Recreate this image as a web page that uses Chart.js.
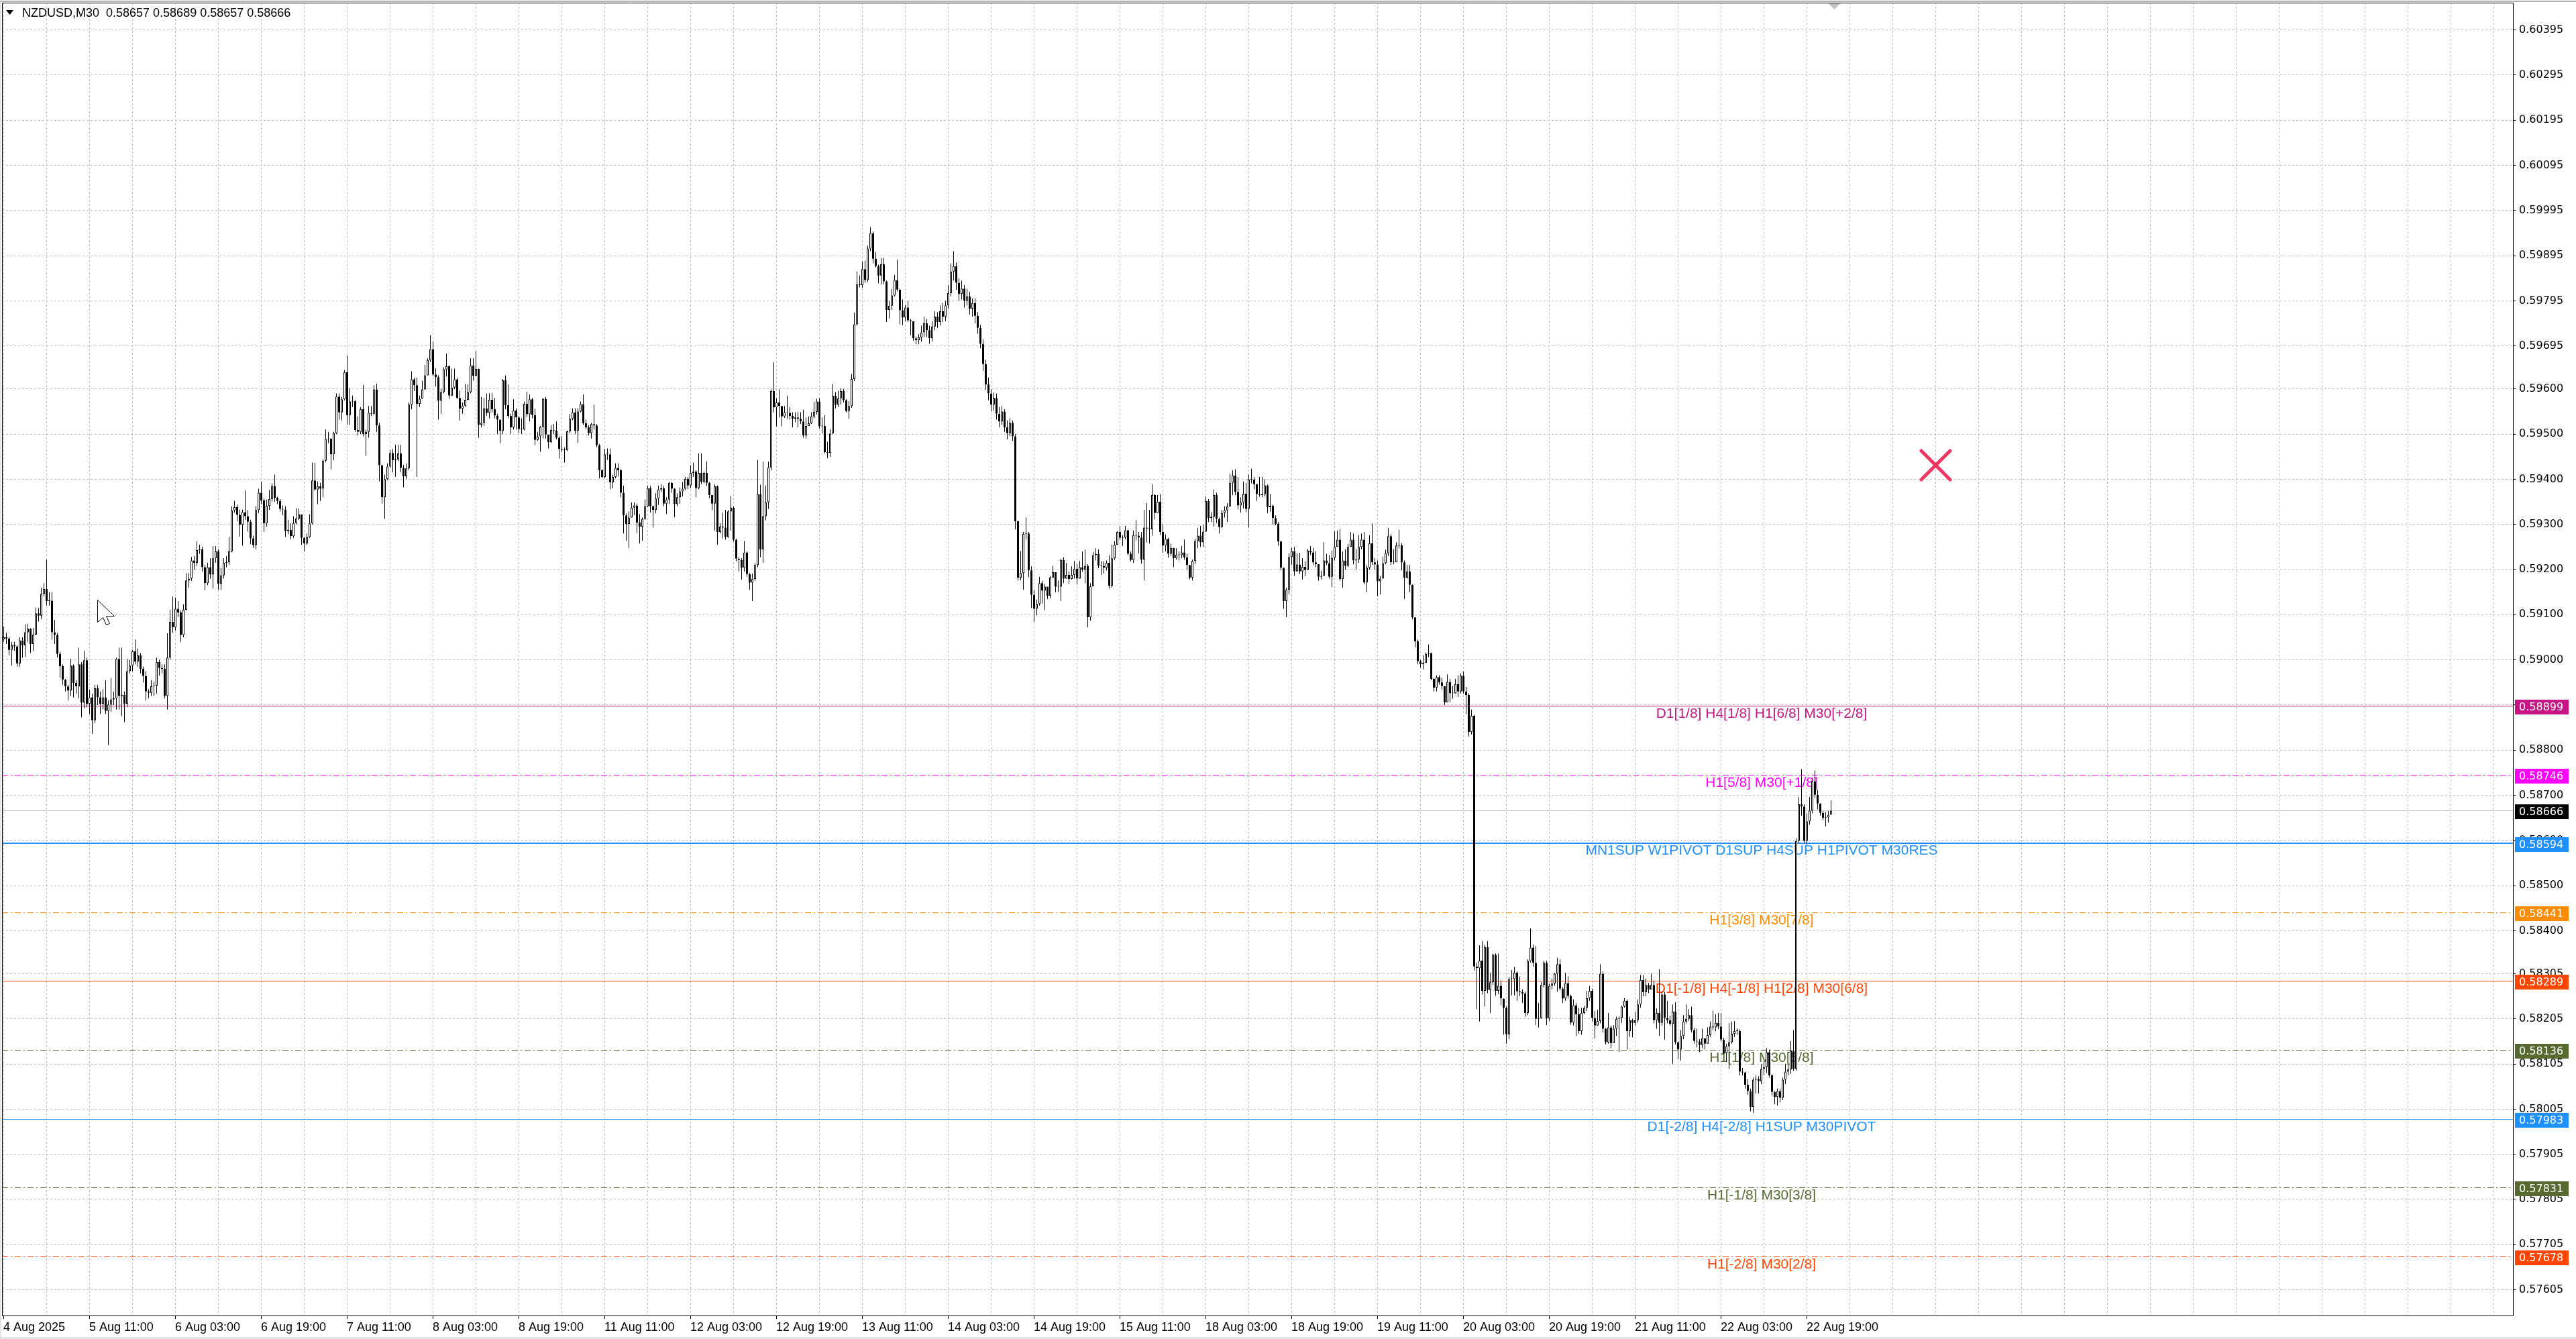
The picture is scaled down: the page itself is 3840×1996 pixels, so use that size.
<!DOCTYPE html>
<html>
<head>
<meta charset="utf-8">
<title>NZDUSD,M30</title>
<script src="https://cdn.jsdelivr.net/npm/chart.js@4.4.1/dist/chart.umd.min.js"></script>
<style>
  html, body { margin: 0; padding: 0; background: #ffffff; }
  #wrap { width: 3840px; height: 1996px; }
  canvas { display: block; }
</style>
</head>
<body>
<div id="wrap"><canvas id="chart" width="3840" height="1996"></canvas></div>
<script>
// ---- data -------------------------------------------------------------
const symbol = 'NZDUSD';
const timeframe = 'M30';
const POINT = 0.00001;          // prices below are in points (1e-5)

// first bar is 4 Aug 19:00, one bar per 30 minutes, weekend skipped
const firstOpen = 59045;

const closes = [
  59050, 59047, 59022, 59032, 59030, 58992, 59043, 59032, 59061, 59069, 59035, 59056, 59103, 59098, 59146, 59157,
  59130, 59131, 59061, 59055, 59013, 58986, 58956, 58941, 58932, 58987, 58949, 58941, 58990, 58905, 58999, 58903,
  58917, 58866, 58937, 58917, 58903, 58917, 58887, 58901, 58912, 58915, 59002, 58920, 58922, 58903, 58975, 58987,
  59019, 58996, 59010, 58980, 58964, 58930, 58927, 58942, 58943, 58995, 58982, 58980, 58920, 59005, 59084, 59072,
  59113, 59105, 59055, 59111, 59176, 59180, 59220, 59215, 59243, 59245, 59205, 59170, 59205, 59189, 59225, 59240,
  59168, 59187, 59215, 59216, 59240, 59331, 59338, 59321, 59299, 59327, 59318, 59306, 59269, 59254, 59332, 59370,
  59353, 59302, 59341, 59356, 59385, 59359, 59352, 59334, 59333, 59285, 59288, 59274, 59303, 59313, 59322, 59270,
  59258, 59272, 59302, 59397, 59377, 59384, 59379, 59441, 59489, 59490, 59455, 59502, 59583, 59548, 59577, 59637,
  59542, 59572, 59573, 59509, 59505, 59555, 59500, 59505, 59547, 59545, 59599, 59519, 59431, 59360, 59400, 59428,
  59458, 59442, 59444, 59457, 59425, 59406, 59424, 59565, 59621, 59608, 59567, 59578, 59599, 59630, 59664, 59688,
  59632, 59626, 59574, 59593, 59643, 59650, 59585, 59603, 59621, 59580, 59556, 59563, 59576, 59593, 59652, 59629,
  59644, 59521, 59525, 59557, 59547, 59576, 59555, 59541, 59532, 59507, 59619, 59564, 59540, 59515, 59552, 59537,
  59511, 59510, 59567, 59544, 59577, 59542, 59487, 59495, 59516, 59578, 59499, 59482, 59509, 59508, 59492, 59467,
  59466, 59464, 59506, 59534, 59548, 59507, 59550, 59566, 59524, 59515, 59502, 59522, 59519, 59475, 59420, 59405,
  59455, 59455, 59393, 59405, 59425, 59420, 59370, 59320, 59301, 59315, 59337, 59342, 59304, 59295, 59312, 59340,
  59380, 59340, 59332, 59357, 59377, 59380, 59346, 59355, 59392, 59379, 59345, 59360, 59373, 59379, 59401, 59386,
  59414, 59417, 59380, 59414, 59394, 59414, 59392, 59365, 59346, 59384, 59283, 59295, 59293, 59272, 59329, 59337,
  59266, 59224, 59221, 59204, 59238, 59190, 59171, 59179, 59210, 59367, 59244, 59318, 59349, 59426, 59595, 59559,
  59570, 59562, 59539, 59548, 59547, 59540, 59534, 59537, 59534, 59528, 59497, 59518, 59524, 59539, 59549, 59572,
  59517, 59518, 59460, 59458, 59501, 59585, 59565, 59579, 59595, 59575, 59551, 59562, 59622, 59743, 59832, 59830,
  59865, 59841, 59911, 59945, 59888, 59872, 59851, 59876, 59838, 59775, 59784, 59807, 59841, 59820, 59774, 59758,
  59780, 59752, 59750, 59712, 59708, 59714, 59725, 59745, 59730, 59712, 59738, 59760, 59748, 59772, 59760, 59785,
  59812, 59860, 59872, 59835, 59810, 59822, 59795, 59805, 59778, 59790, 59762, 59735, 59700, 59655, 59610, 59590,
  59565, 59580, 59545, 59528, 59550, 59515, 59502, 59525, 59495, 59307, 59182, 59192, 59279, 59280, 59198, 59144,
  59113, 59124, 59170, 59153, 59162, 59142, 59182, 59194, 59162, 59162, 59221, 59180, 59188, 59179, 59188, 59202,
  59180, 59205, 59200, 59208, 59094, 59163, 59232, 59235, 59209, 59208, 59204, 59215, 59164, 59225, 59255, 59283,
  59270, 59271, 59287, 59235, 59221, 59276, 59275, 59271, 59222, 59293, 59291, 59289, 59365, 59325, 59350, 59283,
  59253, 59268, 59235, 59248, 59225, 59233, 59232, 59238, 59227, 59210, 59182, 59219, 59263, 59275, 59260, 59284,
  59352, 59314, 59317, 59365, 59312, 59294, 59325, 59331, 59340, 59392, 59408, 59372, 59342, 59349, 59368, 59334,
  59399, 59399, 59389, 59367, 59365, 59367, 59386, 59338, 59341, 59314, 59301, 59262, 59204, 59130, 59155, 59228,
  59241, 59196, 59211, 59196, 59206, 59199, 59242, 59238, 59216, 59212, 59184, 59186, 59220, 59214, 59184, 59226,
  59250, 59266, 59179, 59220, 59208, 59250, 59266, 59220, 59222, 59250, 59266, 59171, 59204, 59258, 59216, 59211,
  59174, 59180, 59214, 59236, 59274, 59216, 59216, 59253, 59254, 59216, 59182, 59196, 59166, 59094, 59041, 58997,
  58990, 58993, 59013, 59015, 58958, 58938, 58962, 58950, 58942, 58906, 58951, 58926, 58926, 58946, 58930, 58965,
  58930, 58922, 58840, 58876, 58321, 58317, 58334, 58267, 58364, 58269, 58286, 58347, 58267, 58278, 58250, 58229,
  58171, 58293, 58293, 58307, 58266, 58264, 58261, 58218, 58333, 58363, 58329, 58205, 58207, 58280, 58329, 58206,
  58278, 58283, 58305, 58326, 58272, 58250, 58284, 58256, 58197, 58235, 58215, 58178, 58218, 58229, 58251, 58267,
  58207, 58190, 58200, 58305, 58183, 58153, 58186, 58151, 58183, 58205, 58207, 58232, 58245, 58178, 58202, 58196,
  58202, 58237, 58291, 58264, 58280, 58270, 58280, 58202, 58218, 58196, 58259, 58207, 58202, 58194, 58221, 58153,
  58137, 58167, 58199, 58205, 58213, 58180, 58156, 58155, 58147, 58162, 58150, 58169, 58188, 58186, 58196, 58188,
  58159, 58129, 58144, 58153, 58172, 58178, 58178, 58088, 58086, 58059, 58045, 58010, 58070, 58072, 58067, 58094,
  58098, 58131, 58080, 58043, 58032, 58045, 58030, 58070, 58088, 58093, 58134, 58094, 58599, 58680, 58675, 58599,
  58642, 58666, 58731, 58701, 58682, 58661, 58650, 58651, 58657, 58666
];

const highs = [
  59074, 59060, 59050, 59040, 59040, 59032, 59050, 59050, 59079, 59080, 59070, 59070, 59116, 59115, 59160, 59170,
  59222, 59150, 59150, 59088, 59060, 59018, 58990, 58958, 58945, 59002, 58990, 58955, 59027, 58995, 59020, 59005,
  58934, 58925, 58945, 58945, 58930, 58935, 58955, 58910, 58960, 58930, 59005, 59027, 59027, 58930, 59002, 59000,
  59022, 59045, 59025, 59015, 58985, 58975, 58935, 58955, 58952, 59005, 59000, 58990, 58990, 59059, 59111, 59140,
  59138, 59130, 59110, 59123, 59192, 59192, 59228, 59230, 59262, 59255, 59250, 59210, 59215, 59225, 59252, 59252,
  59245, 59203, 59225, 59230, 59272, 59340, 59352, 59344, 59333, 59333, 59375, 59332, 59310, 59275, 59340, 59379,
  59395, 59358, 59355, 59376, 59391, 59410, 59361, 59356, 59342, 59340, 59310, 59302, 59318, 59336, 59335, 59322,
  59272, 59280, 59322, 59437, 59436, 59395, 59392, 59444, 59510, 59505, 59490, 59505, 59590, 59590, 59582, 59642,
  59674, 59602, 59585, 59575, 59539, 59560, 59609, 59510, 59562, 59562, 59608, 59612, 59525, 59432, 59410, 59435,
  59465, 59467, 59476, 59476, 59476, 59432, 59435, 59570, 59639, 59625, 59625, 59585, 59618, 59653, 59668, 59719,
  59705, 59646, 59630, 59600, 59648, 59678, 59652, 59645, 59645, 59625, 59596, 59570, 59611, 59610, 59668, 59668,
  59684, 59645, 59582, 59580, 59590, 59590, 59591, 59580, 59545, 59532, 59622, 59630, 59610, 59545, 59577, 59557,
  59540, 59535, 59572, 59594, 59588, 59580, 59556, 59505, 59518, 59580, 59582, 59495, 59520, 59522, 59528, 59495,
  59495, 59470, 59508, 59545, 59557, 59557, 59557, 59572, 59588, 59532, 59520, 59525, 59565, 59522, 59478, 59422,
  59467, 59468, 59468, 59410, 59435, 59435, 59422, 59386, 59324, 59329, 59349, 59349, 59346, 59323, 59315, 59355,
  59386, 59385, 59342, 59369, 59386, 59389, 59385, 59360, 59394, 59394, 59380, 59369, 59382, 59394, 59405, 59405,
  59431, 59437, 59420, 59457, 59457, 59417, 59440, 59394, 59365, 59389, 59386, 59303, 59326, 59332, 59332, 59363,
  59340, 59268, 59228, 59225, 59263, 59240, 59192, 59191, 59214, 59443, 59388, 59439, 59386, 59439, 59599, 59659,
  59579, 59599, 59562, 59562, 59585, 59560, 59548, 59548, 59549, 59548, 59554, 59537, 59539, 59548, 59571, 59578,
  59579, 59537, 59542, 59483, 59511, 59611, 59593, 59596, 59602, 59600, 59577, 59573, 59633, 59769, 59860, 59851,
  59882, 59884, 59917, 59958, 59949, 59903, 59875, 59890, 59890, 59840, 59795, 59821, 59852, 59886, 59822, 59798,
  59786, 59795, 59755, 59750, 59716, 59721, 59740, 59760, 59755, 59740, 59750, 59772, 59770, 59785, 59790, 59795,
  59830, 59878, 59905, 59880, 59845, 59840, 59830, 59822, 59815, 59800, 59800, 59770, 59742, 59710, 59665, 59625,
  59600, 59592, 59590, 59560, 59562, 59555, 59530, 59535, 59530, 59500, 59308, 59241, 59283, 59315, 59283, 59207,
  59155, 59133, 59184, 59175, 59168, 59160, 59185, 59208, 59185, 59176, 59224, 59227, 59214, 59196, 59207, 59219,
  59212, 59219, 59240, 59244, 59212, 59170, 59239, 59247, 59244, 59218, 59218, 59220, 59232, 59255, 59263, 59285,
  59297, 59276, 59297, 59288, 59240, 59286, 59309, 59283, 59283, 59332, 59347, 59332, 59389, 59367, 59365, 59367,
  59300, 59278, 59270, 59257, 59247, 59247, 59240, 59252, 59266, 59235, 59210, 59222, 59268, 59292, 59297, 59299,
  59362, 59356, 59327, 59377, 59370, 59315, 59332, 59340, 59347, 59412, 59420, 59422, 59405, 59360, 59395, 59392,
  59410, 59423, 59405, 59389, 59405, 59405, 59400, 59388, 59367, 59344, 59320, 59305, 59264, 59204, 59160, 59236,
  59248, 59250, 59236, 59237, 59225, 59218, 59246, 59252, 59248, 59240, 59203, 59197, 59260, 59235, 59232, 59242,
  59284, 59286, 59290, 59240, 59245, 59256, 59283, 59280, 59245, 59276, 59280, 59283, 59210, 59276, 59302, 59225,
  59220, 59185, 59228, 59244, 59292, 59278, 59245, 59260, 59288, 59258, 59220, 59210, 59210, 59167, 59094, 59045,
  59000, 59010, 59016, 59034, 59016, 58960, 58966, 58966, 58960, 58940, 58968, 58958, 58942, 58958, 58966, 58970,
  58974, 58940, 58926, 58890, 58878, 58329, 58368, 58377, 58369, 58377, 58307, 58350, 58350, 58350, 58289, 58250,
  58232, 58298, 58313, 58320, 58310, 58299, 58270, 58265, 58337, 58405, 58370, 58366, 58240, 58286, 58334, 58334,
  58283, 58294, 58307, 58340, 58337, 58275, 58307, 58299, 58258, 58248, 58240, 58229, 58229, 58234, 58267, 58278,
  58272, 58222, 58225, 58326, 58310, 58185, 58218, 58190, 58191, 58210, 58210, 58234, 58251, 58248, 58210, 58205,
  58221, 58248, 58302, 58302, 58294, 58285, 58305, 58290, 58228, 58315, 58265, 58265, 58245, 58212, 58237, 58242,
  58155, 58180, 58213, 58237, 58226, 58232, 58185, 58183, 58160, 58183, 58162, 58186, 58199, 58223, 58215, 58218,
  58218, 58163, 58150, 58196, 58199, 58200, 58184, 58182, 58096, 58088, 58072, 58050, 58075, 58080, 58078, 58105,
  58110, 58140, 58137, 58082, 58045, 58051, 58050, 58075, 58105, 58105, 58156, 58180, 58605, 58696, 58758, 58680,
  58660, 58696, 58739, 58755, 58712, 58682, 58665, 58663, 58665, 58689
];

const lows = [
  59040, 59035, 59010, 58987, 59020, 58985, 58985, 59005, 59007, 59040, 59015, 59020, 59055, 59085, 59090, 59140,
  59120, 59120, 59045, 59035, 59005, 58960, 58945, 58930, 58910, 58920, 58917, 58925, 58915, 58873, 58893, 58895,
  58880, 58836, 58860, 58900, 58880, 58890, 58880, 58811, 58885, 58900, 58890, 58890, 58875, 58862, 58895, 58970,
  58975, 58990, 58985, 58970, 58950, 58910, 58915, 58920, 58920, 58925, 58965, 58970, 58915, 58890, 59000, 59060,
  59065, 59095, 59040, 59050, 59110, 59160, 59175, 59200, 59208, 59235, 59195, 59154, 59165, 59180, 59158, 59215,
  59155, 59155, 59180, 59205, 59210, 59238, 59326, 59307, 59273, 59253, 59310, 59284, 59256, 59248, 59245, 59325,
  59345, 59284, 59295, 59332, 59350, 59350, 59345, 59328, 59320, 59272, 59278, 59267, 59270, 59300, 59310, 59255,
  59240, 59255, 59270, 59300, 59375, 59345, 59352, 59360, 59438, 59480, 59422, 59442, 59500, 59532, 59530, 59575,
  59521, 59520, 59560, 59505, 59497, 59500, 59495, 59452, 59492, 59540, 59542, 59505, 59395, 59346, 59312, 59398,
  59425, 59415, 59405, 59440, 59415, 59382, 59400, 59420, 59555, 59595, 59405, 59560, 59578, 59598, 59630, 59660,
  59628, 59605, 59532, 59545, 59590, 59628, 59578, 59585, 59600, 59578, 59530, 59545, 59560, 59575, 59590, 59618,
  59628, 59492, 59515, 59518, 59540, 59535, 59548, 59535, 59500, 59480, 59500, 59555, 59535, 59500, 59510, 59510,
  59502, 59500, 59508, 59538, 59528, 59535, 59475, 59485, 59461, 59490, 59490, 59468, 59480, 59500, 59488, 59446,
  59460, 59437, 59462, 59502, 59530, 59500, 59480, 59548, 59520, 59510, 59497, 59490, 59510, 59471, 59402, 59402,
  59402, 59443, 59378, 59380, 59402, 59406, 59360, 59280, 59264, 59248, 59315, 59320, 59281, 59258, 59264, 59310,
  59338, 59326, 59293, 59325, 59343, 59372, 59340, 59323, 59345, 59370, 59316, 59340, 59346, 59362, 59376, 59378,
  59380, 59405, 59360, 59378, 59389, 59391, 59385, 59358, 59332, 59286, 59255, 59280, 59269, 59266, 59270, 59286,
  59262, 59218, 59196, 59178, 59195, 59184, 59155, 59130, 59175, 59205, 59227, 59215, 59309, 59334, 59420, 59548,
  59517, 59537, 59517, 59536, 59534, 59532, 59515, 59526, 59515, 59522, 59492, 59490, 59518, 59522, 59535, 59543,
  59512, 59501, 59457, 59447, 59450, 59500, 59557, 59560, 59565, 59570, 59548, 59534, 59558, 59617, 59740, 59825,
  59824, 59835, 59837, 59905, 59878, 59869, 59834, 59831, 59832, 59748, 59756, 59775, 59805, 59816, 59743, 59741,
  59750, 59748, 59719, 59707, 59699, 59699, 59705, 59715, 59715, 59700, 59705, 59730, 59735, 59740, 59748, 59750,
  59778, 59805, 59840, 59820, 59795, 59798, 59780, 59785, 59765, 59760, 59745, 59722, 59690, 59640, 59598, 59575,
  59550, 59552, 59532, 59515, 59520, 59505, 59488, 59495, 59485, 59289, 59176, 59176, 59155, 59267, 59183, 59115,
  59084, 59099, 59120, 59125, 59110, 59135, 59136, 59182, 59150, 59150, 59130, 59170, 59180, 59168, 59178, 59180,
  59167, 59180, 59195, 59170, 59072, 59087, 59163, 59220, 59203, 59188, 59191, 59198, 59158, 59160, 59221, 59255,
  59265, 59252, 59267, 59231, 59218, 59215, 59265, 59236, 59213, 59176, 59260, 59258, 59275, 59311, 59325, 59277,
  59237, 59240, 59226, 59230, 59205, 59222, 59220, 59225, 59222, 59200, 59178, 59176, 59212, 59247, 59250, 59250,
  59283, 59305, 59305, 59295, 59303, 59280, 59292, 59315, 59305, 59338, 59365, 59365, 59333, 59326, 59335, 59327,
  59293, 59391, 59378, 59352, 59361, 59360, 59362, 59325, 59328, 59299, 59298, 59253, 59198, 59113, 59094, 59145,
  59210, 59186, 59195, 59190, 59178, 59185, 59200, 59232, 59210, 59205, 59175, 59178, 59190, 59210, 59180, 59161,
  59220, 59250, 59175, 59160, 59200, 59205, 59250, 59212, 59200, 59215, 59245, 59167, 59150, 59200, 59210, 59200,
  59141, 59145, 59180, 59212, 59230, 59210, 59212, 59220, 59247, 59198, 59135, 59180, 59150, 59090, 59028, 58990,
  58983, 58979, 58994, 59006, 58955, 58930, 58930, 58945, 58934, 58900, 58935, 58906, 58914, 58925, 58918, 58925,
  58925, 58880, 58830, 58835, 58312, 58226, 58199, 58259, 58232, 58262, 58218, 58280, 58256, 58260, 58235, 58170,
  58150, 58160, 58257, 58257, 58245, 58255, 58240, 58210, 58213, 58330, 58320, 58191, 58186, 58205, 58275, 58191,
  58200, 58270, 58278, 58265, 58268, 58240, 58245, 58250, 58192, 58190, 58167, 58172, 58170, 58215, 58222, 58245,
  58199, 58161, 58190, 58195, 58175, 58148, 58150, 58140, 58159, 58167, 58132, 58196, 58230, 58137, 58165, 58164,
  58190, 58196, 58230, 58255, 58255, 58262, 58270, 58195, 58183, 58167, 58190, 58159, 58195, 58190, 58105, 58148,
  58116, 58113, 58160, 58195, 58200, 58175, 58150, 58142, 58131, 58140, 58137, 58150, 58165, 58180, 58178, 58182,
  58155, 58126, 58110, 58094, 58150, 58165, 58170, 58080, 58080, 58050, 58037, 58000, 57997, 58040, 58040, 58060,
  58080, 58085, 58075, 58035, 58016, 58013, 58020, 58025, 58060, 58080, 58083, 58090, 58090, 58595, 58655, 58593,
  58590, 58635, 58660, 58695, 58669, 58655, 58645, 58631, 58640, 58657
];

// time axis labels, one every 32 bars (16 hours)
const timeLabels = [
  '4 Aug 2025', '5 Aug 11:00', '6 Aug 03:00', '6 Aug 19:00', '7 Aug 11:00', '8 Aug 03:00',
  '8 Aug 19:00', '11 Aug 11:00', '12 Aug 03:00', '12 Aug 19:00', '13 Aug 11:00', '14 Aug 03:00',
  '14 Aug 19:00', '15 Aug 11:00', '18 Aug 03:00', '18 Aug 19:00', '19 Aug 11:00', '20 Aug 03:00',
  '20 Aug 19:00', '21 Aug 11:00', '22 Aug 03:00', '22 Aug 19:00'
];
const LABEL_EVERY = 32;
const GRID_EVERY = 16;

const priceTicks = [
  0.60395, 0.60295, 0.60195, 0.60095, 0.59995, 0.59895, 0.59795, 0.59695, 0.59600, 0.59500,
  0.59400, 0.59300, 0.59200, 0.59100, 0.59000, 0.58900, 0.58800, 0.58700, 0.58600, 0.58500,
  0.58400, 0.58305, 0.58205, 0.58105, 0.58005, 0.57905, 0.57805, 0.57705, 0.57605
];

// horizontal level lines drawn by the indicator
const levelPrices = [0.58899, 0.58746, 0.58594, 0.58441, 0.58289, 0.58136, 0.57983, 0.57831, 0.57678];
const levelLabels = [
  'D1[1/8] H4[1/8] H1[6/8] M30[+2/8]',
  'H1[5/8] M30[+1/8]',
  'MN1SUP W1PIVOT D1SUP H4SUP H1PIVOT M30RES',
  'H1[3/8] M30[7/8]',
  'D1[-1/8] H4[-1/8] H1[2/8] M30[6/8]',
  'H1[1/8] M30[5/8]',
  'D1[-2/8] H4[-2/8] H1SUP M30PIVOT',
  'H1[-1/8] M30[3/8]',
  'H1[-2/8] M30[2/8]'
];

// ---- styles -------------------------------------------------------------
const DASHDOT = [9, 4, 2, 4];
const levelStyles = [
  { color: '#C71585', width: 1, dash: [] },
  { color: '#FF00FF', width: 1, dash: DASHDOT },
  { color: '#1E90FF', width: 2, dash: [] },
  { color: '#FF8C00', width: 1, dash: DASHDOT },
  { color: '#FF4500', width: 1, dash: [] },
  { color: '#556B2F', width: 1, dash: DASHDOT },
  { color: '#1E90FF', width: 1, dash: [] },
  { color: '#556B2F', width: 1, dash: DASHDOT },
  { color: '#FF4500', width: 1, dash: DASHDOT }
];
const GRID_COLOR = '#C0C0C0';
const LEVEL_LABEL_X = 2626;
const SANS = '"Liberation Sans", Arial, sans-serif';
const AXIS_FONT = '"DejaVu Sans", Verdana, sans-serif';

// ---- build --------------------------------------------------------------
if (highs.length !== closes.length || lows.length !== closes.length) {
  console.warn('bar arrays differ in length', closes.length, highs.length, lows.length);
}
const opens = closes.map((c, i) => (i === 0 ? firstOpen : closes[i - 1]));
const bull = closes.map((c, i) => c >= opens[i]);

const wickData = closes.map((c, i) => ({
  x: i,
  y: [Math.min(lows[i], opens[i], c) * POINT, Math.max(highs[i], opens[i], c) * POINT]
}));
const bodyData = closes.map((c, i) => ({
  x: i,
  y: [Math.min(opens[i], c) * POINT, Math.max(opens[i], c) * POINT]
}));

const fmt = v => v.toFixed(5);
const last = closes.length - 1;

// 4 px per bar, plot from x=3 to x=3746
const xMin = -0.625;
const xMax = xMin + 3743 / 4;
const yMax = 0.604553;
const yMin = 0.575465;

const overlay = {
  id: 'mt4Overlay',
  beforeDraw(chart) {
    const { ctx, width, height } = chart;
    ctx.save();
    ctx.fillStyle = '#ffffff';
    ctx.fillRect(0, 0, width, height);
    ctx.restore();
  },
  beforeDatasetsDraw(chart) {
    const { ctx, chartArea: a } = chart;
    const y = chart.scales.y;
    ctx.save();
    ctx.beginPath();
    ctx.rect(a.left, a.top, a.right - a.left, a.bottom - a.top);
    ctx.clip();

    // bid line
    const bidY = Math.round(y.getPixelForValue(closes[last] * POINT)) + 0.5;
    ctx.strokeStyle = '#C0C0C0';
    ctx.lineWidth = 1;
    ctx.beginPath();
    ctx.moveTo(a.left, bidY);
    ctx.lineTo(a.right, bidY);
    ctx.stroke();

    levelPrices.forEach((p, k) => {
      const st = levelStyles[k];
      const py = Math.round(y.getPixelForValue(p)) + (st.width % 2 ? 0.5 : 0);
      ctx.strokeStyle = st.color;
      ctx.lineWidth = st.width;
      ctx.setLineDash(st.dash);
      ctx.beginPath();
      ctx.moveTo(a.left, py);
      ctx.lineTo(a.right, py);
      ctx.stroke();
      ctx.setLineDash([]);
      ctx.fillStyle = st.color;
      ctx.font = '21px ' + SANS;
      ctx.textAlign = 'center';
      ctx.textBaseline = 'middle';
      ctx.fillText(levelLabels[k], LEVEL_LABEL_X, py + 11.5);
    });
    ctx.restore();
  },
  afterDraw(chart) {
    const { ctx, chartArea: a, width, height } = chart;
    const x = chart.scales.x;
    const y = chart.scales.y;
    ctx.save();

    // window edges
    ctx.fillStyle = '#E4E4E4';
    ctx.fillRect(0, 0, width, 2);
    ctx.fillRect(0, 0, 2, height);
    ctx.fillRect(0, height - 3, width, 3);
    ctx.fillStyle = '#A0A0A0';
    ctx.fillRect(0, 2, width, 1);

    // plot frame
    ctx.strokeStyle = '#000000';
    ctx.lineWidth = 1;
    ctx.beginPath();
    ctx.moveTo(a.left + 0.5, a.top + 0.5);
    ctx.lineTo(a.right + 0.5, a.top + 0.5);
    ctx.lineTo(a.right + 0.5, a.bottom - 0.5);
    ctx.lineTo(a.left + 0.5, a.bottom - 0.5);
    ctx.closePath();
    ctx.stroke();

    // time labels
    ctx.fillStyle = '#000000';
    ctx.font = '18px ' + SANS;
    ctx.textAlign = 'left';
    ctx.textBaseline = 'alphabetic';
    timeLabels.forEach((t, k) => {
      const px = x.getPixelForValue(k * LABEL_EVERY);
      ctx.fillText(t, Math.round(px) - 1, a.bottom + 22);
    });

    // price boxes on the axis
    const boxes = levelPrices.map((p, k) => ({ p, color: levelStyles[k].color }));
    boxes.splice(2, 0, { p: closes[last] * POINT, color: '#000000' });
    ctx.font = '16px ' + AXIS_FONT;
    ctx.textBaseline = 'middle';
    boxes.forEach(b => {
      const py = Math.round(y.getPixelForValue(b.p)) + 2;
      ctx.fillStyle = b.color;
      ctx.fillRect(a.right + 3, py - 11, 80, 22);
      ctx.fillStyle = '#ffffff';
      ctx.fillText(fmt(b.p), a.right + 9, py + 1);
    });

    // header
    ctx.fillStyle = '#000000';
    ctx.beginPath();
    ctx.moveTo(9, 15);
    ctx.lineTo(20, 15);
    ctx.lineTo(14.5, 22);
    ctx.closePath();
    ctx.fill();
    ctx.font = '18px ' + SANS;
    ctx.textBaseline = 'alphabetic';
    ctx.fillText(symbol + ',' + timeframe + '  ' + [opens[last], highs[last], lows[last], closes[last]]
      .map(v => fmt(v * POINT)).join(' '), 33, 25);

    // chart shift marker
    const sx = Math.round(x.getPixelForValue(closes.length)) + 0.5;
    ctx.fillStyle = '#C0C0C0';
    ctx.beginPath();
    ctx.moveTo(sx - 9, a.top + 1);
    ctx.lineTo(sx + 9, a.top + 1);
    ctx.lineTo(sx, a.top + 10);
    ctx.closePath();
    ctx.fill();

    // red cross object
    ctx.strokeStyle = '#EE3461';
    ctx.lineWidth = 5;
    ctx.lineCap = 'round';
    ctx.beginPath();
    ctx.moveTo(2864, 672); ctx.lineTo(2907, 715);
    ctx.moveTo(2907, 672); ctx.lineTo(2864, 715);
    ctx.stroke();

    // mouse pointer
    ctx.lineCap = 'butt';
    ctx.lineWidth = 1;
    ctx.fillStyle = '#ffffff';
    ctx.strokeStyle = '#000000';
    const cx = 145.5, cy = 894.5;
    const pts = [[0, 0], [0, 33], [8, 26], [13, 37], [18, 35], [13, 24], [25, 24]];
    ctx.beginPath();
    pts.forEach(([dx, dy], k) => (k ? ctx.lineTo(cx + dx, cy + dy) : ctx.moveTo(cx + dx, cy + dy)));
    ctx.closePath();
    ctx.fill();
    ctx.stroke();

    ctx.restore();
  }
};

new Chart(document.getElementById('chart'), {
  type: 'bar',
  data: {
    datasets: [
      {
        label: 'wick',
        data: wickData,
        order: 2,
        grouped: false,
        barThickness: 1,
        backgroundColor: '#000000',
        borderWidth: 0,
        inflateAmount: 0
      },
      {
        label: 'body',
        data: bodyData,
        order: 1,
        grouped: false,
        barThickness: 3,
        minBarLength: 1,
        backgroundColor: ctx => (bull[ctx.dataIndex] ? '#ffffff' : '#000000'),
        borderColor: '#000000',
        borderWidth: 1,
        borderSkipped: false,
        inflateAmount: 0
      }
    ]
  },
  options: {
    responsive: false,
    devicePixelRatio: 1,
    animation: false,
    events: [],
    layout: { padding: { left: 3, top: 4, right: 0, bottom: 0 } },
    plugins: { legend: { display: false }, tooltip: { enabled: false } },
    scales: {
      x: {
        type: 'linear',
        min: xMin,
        max: xMax,
        offset: false,
        bounds: 'data',
        grid: {
          offset: false,
          color: GRID_COLOR,
          lineWidth: 1,
          drawTicks: true,
          tickLength: 4,
          tickColor: c => (c.tick && c.tick.value % LABEL_EVERY === 0 && c.tick.value / LABEL_EVERY < timeLabels.length ? '#000000' : 'rgba(0,0,0,0)')
        },
        border: { display: false, dash: [3, 3] },
        ticks: { display: false, autoSkip: false, maxRotation: 0, minRotation: 0 },
        afterBuildTicks: scale => {
          const t = [];
          for (let v = 0; v <= xMax; v += GRID_EVERY) t.push({ value: v });
          scale.ticks = t;
        },
        afterFit: scale => {
          scale.height = 34;
          scale.paddingLeft = 0;
          scale.paddingRight = 0;
        }
      },
      y: {
        type: 'linear',
        position: 'right',
        min: yMin,
        max: yMax,
        bounds: 'data',
        grid: {
          color: GRID_COLOR,
          lineWidth: 1,
          drawTicks: true,
          tickLength: 4,
          tickColor: '#000000'
        },
        border: { display: false, dash: [3, 3] },
        ticks: {
          autoSkip: false,
          padding: 5,
          color: '#000000',
          font: { family: AXIS_FONT, size: 16 },
          callback: v => fmt(v)
        },
        afterBuildTicks: scale => {
          scale.ticks = priceTicks.map(v => ({ value: v }));
        },
        afterFit: scale => {
          scale.width = 94;
          scale.paddingTop = 0;
          scale.paddingBottom = 0;
        }
      }
    }
  },
  plugins: [overlay]
});
</script>
</body>
</html>
